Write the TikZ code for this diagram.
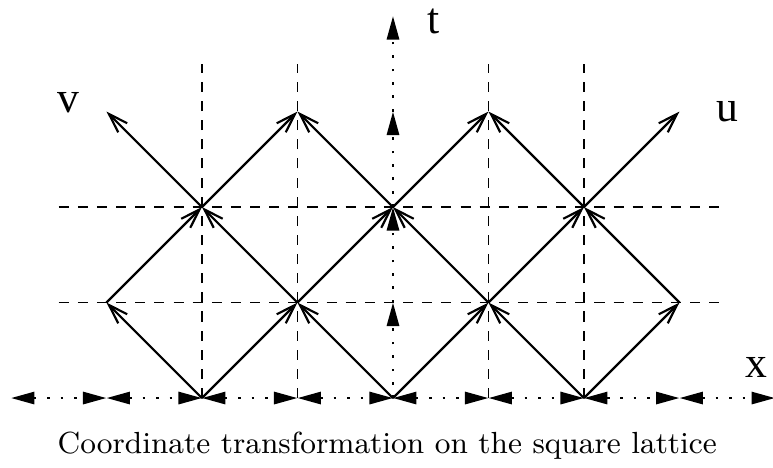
\documentclass[tikz,border=0pt]{standalone}
\usepackage{fontspec}
\usetikzlibrary{arrows.meta}
\newfontfamily\labelfont{Liberation Serif}

\begin{document}
\begin{tikzpicture}[x=1cm,y=1cm,
  grid line/.style={line width=0.45pt,dash pattern=on 3pt off 2.7pt},
  edge/.style={line width=0.65pt,-{Straight Barb[length=5.8pt,width=3.8pt]}},
  axis/.style={line width=0.8pt,dash pattern=on 0.8pt off 3.2pt},
  tip/.tip={Triangle[length=7pt,width=3.6pt]},
  label/.style={font=\labelfont\fontsize{13}{15}\selectfont}]
\useasboundingbox (-4.115,-0.723) rectangle (3.979,4.168);
% lattice points
\coordinate (a1) at (-2,0);
\coordinate (a2) at (0,0);
\coordinate (a3) at (2,0);
\coordinate (b1) at (-3,1);
\coordinate (b2) at (-1,1);
\coordinate (b3) at (1,1);
\coordinate (b4) at (3,1);
\coordinate (c1) at (-2,2);
\coordinate (c2) at (0,2);
\coordinate (c3) at (2,2);
\coordinate (d1) at (-3,3);
\coordinate (d2) at (-1,3);
\coordinate (d3) at (1,3);
\coordinate (d4) at (3,3);
% axis points
\coordinate (h0) at (-4,0);
\coordinate (h1) at (-3,0);
\coordinate (h3) at (-1,0);
\coordinate (h5) at (1,0);
\coordinate (h7) at (3,0);
\coordinate (h8) at (4,0);
\coordinate (t1) at (0,1);
\coordinate (t3) at (0,3);
\coordinate (t4) at (0,4);
% dashed square lattice
\draw[grid line] (-3.5,1) -- (3.5,1);
\draw[grid line] (-3.5,2) -- (3.5,2);
\draw[grid line] (-2,0) -- (-2,3.5);
\draw[grid line] (-1,0) -- (-1,3.5);
\draw[grid line] (1,0) -- (1,3.5);
\draw[grid line] (2,0) -- (2,3.5);
% diagonal lattice
\draw[edge] (a1) -- (b1);
\draw[edge] (a1) -- (b2);
\draw[edge] (a2) -- (b2);
\draw[edge] (a2) -- (b3);
\draw[edge] (a3) -- (b3);
\draw[edge] (a3) -- (b4);
\draw[edge] (b1) -- (c1);
\draw[edge] (b2) -- (c1);
\draw[edge] (b2) -- (c2);
\draw[edge] (b3) -- (c2);
\draw[edge] (b3) -- (c3);
\draw[edge] (b4) -- (c3);
\draw[edge] (c1) -- (d1);
\draw[edge] (c1) -- (d2);
\draw[edge] (c2) -- (d2);
\draw[edge] (c2) -- (d3);
\draw[edge] (c3) -- (d3);
\draw[edge] (c3) -- (d4);
% axes
\draw[axis,tip-tip] (h0) -- (h1);
\draw[axis,tip-tip] (h1) -- (a1);
\draw[axis,tip-tip] (a1) -- (h3);
\draw[axis,tip-tip] (h3) -- (a2);
\draw[axis,tip-tip] (a2) -- (h5);
\draw[axis,tip-tip] (h5) -- (a3);
\draw[axis,tip-tip] (a3) -- (h7);
\draw[axis,tip-tip] (h7) -- (h8);
\draw[axis,-tip] (a2) -- (t1);
\draw[axis,-tip] (t1) -- (c2);
\draw[axis,-tip] (c2) -- (t3);
\draw[axis,-tip] (t3) -- (t4);
% labels
\node[label] (tlab) at (0.42,3.94) {t};
\node[label] (vlab) at (-3.4,3.09) {v};
\node[label] (ulab) at (3.5,3.0) {u};
\node[label] (xlab) at (3.81,0.325) {x};
\node[font=\fontsize{9.1}{11}\selectfont] (caption) at (-0.06,-0.5) {Coordinate transformation on the square lattice};
\end{tikzpicture}
\end{document}
